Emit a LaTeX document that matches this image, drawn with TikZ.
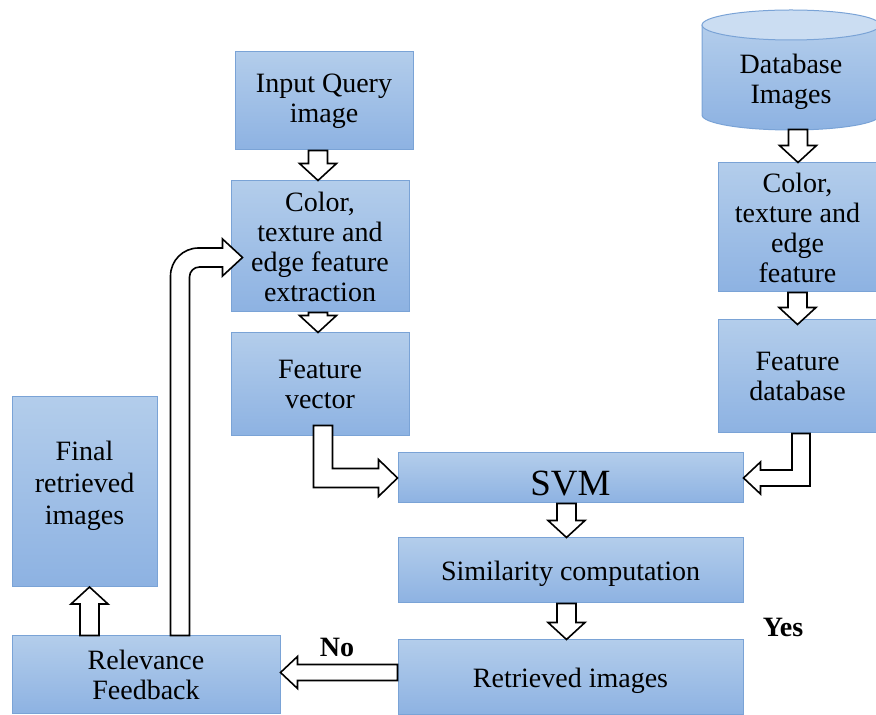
\documentclass[tikz,border=0pt]{standalone}
\usepackage{fontspec}
\setmainfont{Liberation Serif}
\usetikzlibrary{calc}
\definecolor{boxtop}{HTML}{B3CDEB}
\definecolor{boxbot}{HTML}{8DB2E2}
\definecolor{boxline}{HTML}{7AA3D6}
\definecolor{cyltop}{HTML}{CBDDF2}
\tikzset{
  every node/.style={font=\fontsize{28}{30}\selectfont,text=black},
  box/.style={draw=boxline,line width=1pt,top color=boxtop,bottom color=boxbot,align=center,inner sep=2pt,
    execute at begin node={\rule{0pt}{26pt}}},
  blockarr/.style={draw=black,fill=white,line width=1.6pt,line join=miter},
  tag/.style={font=\fontsize{28}{30}\selectfont\bfseries},
}
% block arrows: #1 = start of shaft, #2 = tip
\newcommand{\downarr}[2]{\draw[blockarr] let \p1=#1, \p2=#2 in (\x2-9.5pt,\y1) -- (\x2-9.5pt,\y2+17pt) -- (\x2-18.5pt,\y2+17pt) -- (\p2) -- (\x2+18.5pt,\y2+17pt) -- (\x2+9.5pt,\y2+17pt) -- (\x2+9.5pt,\y1) -- cycle;}
\newcommand{\uparr}[2]{\draw[blockarr] let \p1=#1, \p2=#2 in (\x2-9.5pt,\y1) -- (\x2-9.5pt,\y2-17pt) -- (\x2-18.5pt,\y2-17pt) -- (\p2) -- (\x2+18.5pt,\y2-17pt) -- (\x2+9.5pt,\y2-17pt) -- (\x2+9.5pt,\y1) -- cycle;}
\newcommand{\leftarr}[2]{\draw[blockarr] let \p1=#1, \p2=#2 in (\x1,\y2-8pt) -- (\x2+17pt,\y2-8pt) -- (\x2+17pt,\y2-16pt) -- (\p2) -- (\x2+17pt,\y2+16pt) -- (\x2+17pt,\y2+8pt) -- (\x1,\y2+8pt) -- cycle;}

\begin{document}
\begin{tikzpicture}[x=1pt,y=1pt]
\useasboundingbox (0,0) rectangle (876,715);

% query side
\node[box,minimum width=178pt,minimum height=98pt] (query) at (324,614) {Input Query\\image};
\node[box,minimum width=178pt,minimum height=131pt] (ext) at (320,468.5) {Color,\\texture and\\edge feature\\extraction};
\node[box,minimum width=178pt,minimum height=103pt] (fvec) at (320,330.5) {Feature\\vector};
\node[box,minimum width=145pt,minimum height=190pt,font=\fontsize{28}{32}\selectfont] (final) at (84.5,223.5) {Final\\retrieved\\images\rule[-18pt]{0pt}{0pt}};

% middle column
\node[box,minimum width=345pt,minimum height=50pt,font=\fontsize{37}{40}\selectfont] (svm) at (570.5,237) {\rule{0pt}{35pt}SVM};
\node[box,minimum width=345pt,minimum height=65pt] (sim) at (570.5,144.5) {Similarity computation};
\node[box,minimum width=345pt,minimum height=75pt] (ret) at (570.5,37.5) {Retrieved images};
\node[box,minimum width=268pt,minimum height=78pt] (rel) at (146,40) {Relevance\\Feedback};

% database side
\node[box,minimum width=159pt,minimum height=129pt] (rdesc) at (797.5,487.5) {Color,\\texture and\\edge\\feature};
\node[box,minimum width=159pt,minimum height=113pt] (fdb) at (797.5,338.5) {Feature\\database};

\shade[top color=boxtop,bottom color=boxbot] (702,690) -- (702,600) arc[start angle=180,end angle=360,x radius=89pt,y radius=15pt] -- (880,690) -- cycle;
\draw[boxline,line width=1pt] (702,690) -- (702,600) arc[start angle=180,end angle=360,x radius=89pt,y radius=15pt] -- (880,690);
\draw[boxline,line width=1pt,fill=cyltop] (791,690) ellipse[x radius=89pt,y radius=15pt];
\node[align=center] (db) at (791,633) {Database\\Images};
\coordinate (dbbase) at (791,585.5);

% arrows
\downarr{(query.south)}{($(ext.north)+(-2,0)$)}
\downarr{(ext.south)}{($(fvec.north)+(-2,0)$)}
\downarr{(svm.south)}{($(sim.north)+(-4,0)$)}
\downarr{(sim.south)}{($(ret.north)+(-4,0)$)}
\downarr{(dbbase)}{($(rdesc.north)+(0.5,0)$)}
\downarr{(rdesc.south)}{($(fdb.north)+(0,-5)$)}
\uparr{(rel.north)}{($(final.south)+(5,0)$)}
\leftarr{(ret.west)}{($(rel.east)+(0,2.5)$)}

\draw[blockarr] let \p1=($(fvec.south)+(3,11)$), \p2=(svm.west) in
  (\x1-9.5pt,\y1) |- (\x2-19pt,\y2-9.5pt) -- (\x2-19pt,\y2-18.5pt) -- (\p2)
  -- (\x2-19pt,\y2+18.5pt) -- (\x2-19pt,\y2+9.5pt) -| (\x1+9.5pt,\y1) -- cycle;
\draw[blockarr] let \p1=($(fdb.south)+(3.5,0)$), \p2=(svm.east) in
  (\x1+9pt,\y1) |- (\x2+17pt,\y2-8pt) -- (\x2+17pt,\y2-16pt) -- (\p2)
  -- (\x2+17pt,\y2+16pt) -- (\x2+17pt,\y2+8pt) -| (\x1-9pt,\y1) -- cycle;
\draw[blockarr] let \p1=($(rel.north)+(34,0)$), \p2=($(ext.west)+(12,-11)$) in
  (\x1-9.5pt,\y1) -- (\x1-9.5pt,\y2-18.5pt) arc[start angle=180,end angle=90,radius=28pt]
  -- (\x2-20pt,\y2+9.5pt) -- (\x2-20pt,\y2+18.5pt) -- (\p2) -- (\x2-20pt,\y2-18.5pt)
  -- (\x2-20pt,\y2-9.5pt) -- (\x1+19.5pt,\y2-9.5pt) arc[start angle=90,end angle=180,radius=10pt]
  -- (\x1+9.5pt,\y1) -- cycle;

\node[tag] (yes) at (783,88) {Yes};
\node[tag] (no) at (337,68) {No};
\end{tikzpicture}
\end{document}
